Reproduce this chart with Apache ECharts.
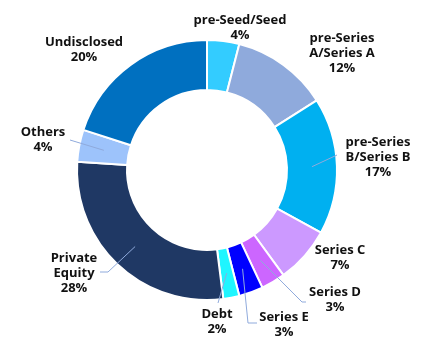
<!DOCTYPE html>
<html>
<head>
<meta charset="utf-8">
<script src="https://cdn.jsdelivr.net/npm/echarts@6/dist/echarts.min.js"></script>
<style>
html,body{margin:0;padding:0;background:#fff;}
#chart{width:430px;height:344px;}
</style>
</head>
<body>
<div id="chart"></div>
<script>
var categories = ['pre-Seed/Seed', 'pre-Series\nA/Series A', 'pre-Series\nB/Series B', 'Series C', 'Series D', 'Series E', 'Debt', 'Private\nEquity', 'Others', 'Undisclosed'];
var values = [4, 12, 17, 7, 3, 3, 2, 28, 4, 20];
var colors = ['#33ccff', '#8faadc', '#00b0f0', '#cc99ff', '#cc66ff', '#0000ff', '#1ff5ff', '#1f3864', '#9dc3fb', '#0070c0'];

// label layout (block centre) and leader-line routing, not data
var labelPos = [[240, 28], [342, 53], [378, 157], [340, 258], [335, 300], [284, 325], [217, 322], [74, 273], [43, 140], [84, 50]];
var linePath = [null, null, [[337, 155], [337, 155]], null, [[302, 302], [306, 302]], [[248, 323], [257, 323]], [[218, 303], [218, 303]], [[108, 272], [100, 272]], [[70, 140], [70, 140]], null];

var cx = 207, cy = 170, rIn = 80, rOut = 130;
var total = values.reduce(function (a, b) { return a + b; }, 0);
var cum = [];
values.reduce(function (acc, v, i) { cum[i] = acc; return acc + v; }, 0);

var chart = echarts.init(document.getElementById('chart'), null, {renderer: 'canvas'});
chart.setOption({
  animation: false,
  series: [{
    type: 'pie',
    z: 1,
    center: [cx, cy],
    radius: [rIn, rOut],
    startAngle: 90,
    clockwise: true,
    silent: true,
    itemStyle: {borderColor: '#ffffff', borderWidth: 2},
    emphasis: {disabled: true},
    label: {show: false},
    labelLine: {show: false},
    data: categories.map(function (c, i) {
      return {name: c, value: values[i], itemStyle: {color: colors[i]}};
    })
  }, {
    type: 'pie',
    z: 5,
    center: [cx, cy],
    radius: [rIn, rOut],
    startAngle: 90,
    clockwise: true,
    silent: true,
    avoidLabelOverlap: false,
    itemStyle: {color: 'rgba(0,0,0,0)', borderWidth: 0},
    emphasis: {disabled: true},
    label: {
      show: true,
      position: 'outside',
      formatter: '{b}\n{c}%',
      fontFamily: 'Open Sans',
      fontWeight: 700,
      fontSize: 13,
      lineHeight: 15,
      color: '#111111',
      align: 'center'
    },
    labelLine: {show: true, showAbove: true, length: 5, length2: 5, lineStyle: {color: '#8faadc', width: 1}},
    labelLayout: function (p) {
      var i = p.dataIndex;
      var res = {x: labelPos[i][0], y: labelPos[i][1], align: 'center', verticalAlign: 'middle'};
      if (linePath[i]) {
        var a = (cum[i] + values[i] / 2) / total * 2 * Math.PI;
        var r = (rIn + rOut) / 2;
        var s = [cx + r * Math.sin(a), cy - r * Math.cos(a)];
        res.labelLinePoints = [s, linePath[i][0], linePath[i][1]];
      }
      return res;
    },
    data: categories.map(function (c, i) {
      return {name: c, value: values[i], labelLine: {show: !!linePath[i]}};
    })
  }]
});
</script>
</body>
</html>
